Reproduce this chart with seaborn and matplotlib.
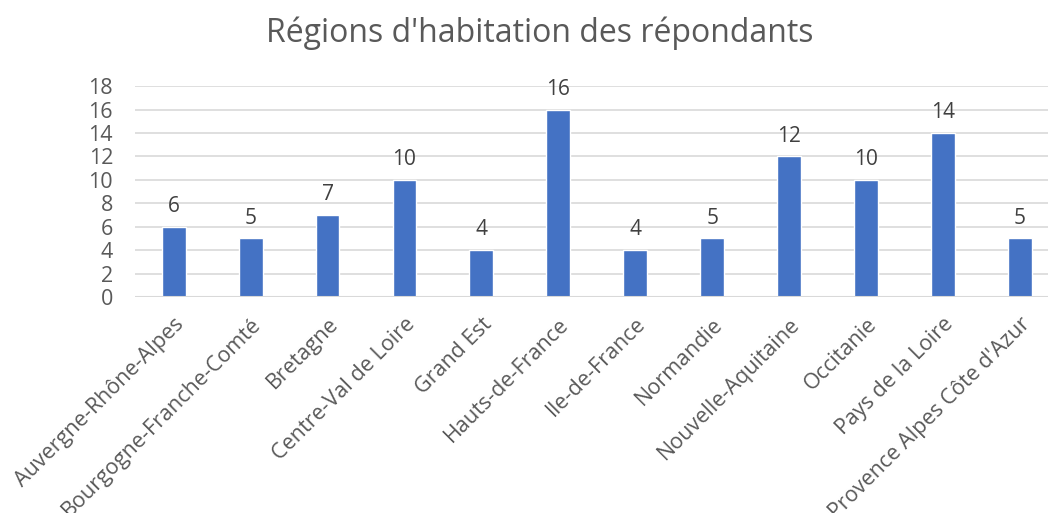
import pandas as pd
import matplotlib.pyplot as plt
import seaborn as sns

regions = ['Auvergne-Rhône-Alpes', 'Bourgogne-Franche-Comté', 'Bretagne', 'Centre-Val de Loire',
           'Grand Est', 'Hauts-de-France', 'Ile-de-France', 'Normandie', 'Nouvelle-Aquitaine',
           'Occitanie', 'Pays de la Loire', "Provence Alpes Côte d'Azur"]
counts = [6, 5, 7, 10, 4, 16, 4, 5, 12, 10, 14, 5]
yticks = [0, 2, 4, 6, 8, 10, 12, 14, 16, 18]

df = pd.DataFrame({'region': regions, 'n': counts})

sns.set_style('white')
plt.rcParams['font.family'] = ['Open Sans', 'DejaVu Sans']
grey = '#595959'

fig = plt.figure(figsize=(10.48, 5.13), dpi=100)
ax = fig.add_axes([0.129, 0.421, 0.881, 0.411])
sns.barplot(data=df, x='region', y='n', color='#4472C4', width=0.31, saturation=1, ax=ax)

ax.set_ylim(0, 18)
ax.set_yticks(yticks)
ax.yaxis.grid(True, color='#d9d9d9', linewidth=1.2)
ax.set_axisbelow(True)
sns.despine(ax=ax, left=True, bottom=True)
ax.axhline(0, color='#d9d9d9', linewidth=1.5, zorder=1)

for i, v in enumerate(counts):
    ax.annotate(str(v), (i, v), xytext=(0, 7), textcoords='offset points',
                ha='center', va='bottom', fontsize=15, color='#404040')

ax.set_xlabel('')
ax.set_ylabel('')
ax.tick_params(axis='both', length=0, labelsize=15.5, labelcolor=grey)
ax.tick_params(axis='y', pad=16)
plt.setp(ax.get_xticklabels(), rotation=45, ha='right', rotation_mode='anchor')
ax.tick_params(axis='x', pad=12)

fig.text(0.515, 0.936, "Régions d'habitation des répondants", ha='center', va='center',
         fontsize=23, color=grey)
fig.savefig('out.png', dpi=100)
